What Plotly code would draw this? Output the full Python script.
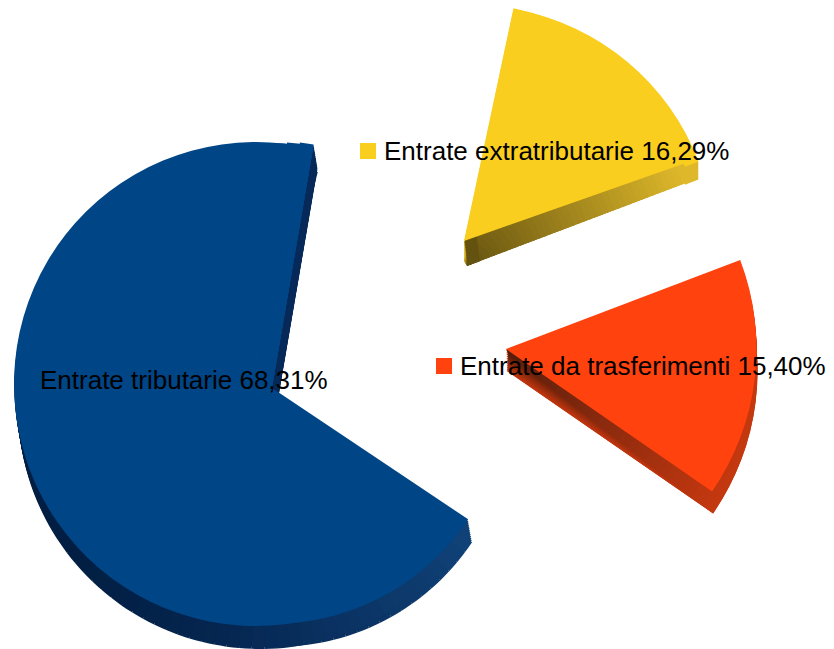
import math
import plotly.graph_objects as go

W, H = 834, 649

slice_labels = ["Entrate tributarie", "Entrate da trasferimenti", "Entrate extratributarie"]
slice_values = [68.31, 15.40, 16.29]
slice_colors = ["#004586", "#ff420e", "#f9ce1e"]
value_text = ["68,31%", "15,40%", "16,29%"]

# layout of each exploded slice (pixels)
apex_x = [272, 506, 464]
apex_y = [388, 349, 241]
apex_radius = [236, 250.5, 238]
start_angle = [123.8, 69.2, 12.0]
# perspective makes the rim off-round: a second arc, centred elsewhere, completes it
arc_x = [256, None, 472]
arc_y = [384, None, 248]
arc_radius = [242, None, 242.5]
arc_start = [140.0, None, 10.5]
arc_sweep = [233.8, None, 58.6]
arc_hole = [0.0, None, 0.94]
arc_wall_drop = [(4, 23), None, (0, 18)]
# the blue slice's upper corner reaches a little further out
corner_start = [360.0, 363.5, 366.5]
corner_radius = [245, 246, 247]
corner_end = 369.7
# extrusion: offset at apex, offset at rim, wall colour at apex and at rim
depth_apex = [(4, 23), (2, 5), (3, 25)]
depth_rim = [(4, 23), (1, 22), (0, 20)]
wall_apex = [(3, 38, 80), (88, 30, 12), (100, 82, 16)]
wall_rim = [(6, 40, 84), (196, 56, 16), (222, 184, 42)]
# shading of the blue wall, by angle
blue_wall_angles = [124, 160, 190, 230, 270, 371]
blue_wall_colors = [(16, 66, 120), (10, 50, 98), (5, 38, 80), (2, 30, 66), (2, 30, 66), (6, 42, 90)]

label_x = [39, 458.5, 382.5]
label_y = [380, 366, 151]
key_x = [None, 436, 360]

STEPS = 40
FRACS = [k / 12 for k in range(1, 13)]
APEX_FRACS = [k / 10 for k in range(1, 11)]


def interp(x, xs, ys):
    if x <= xs[0]:
        return ys[0]
    for k in range(1, len(xs)):
        if x <= xs[k]:
            t = (x - xs[k - 1]) / (xs[k] - xs[k - 1])
            return ys[k - 1] + (ys[k] - ys[k - 1]) * t
    return ys[-1]


def rgb(c):
    return f"rgb({round(c[0])},{round(c[1])},{round(c[2])})"


def pie(values, colors, cx, cy, r, rot, hole=0.0):
    # a pie's circle must stay on the page: slide the apex along the wedge's
    # middle ray if it would overflow; the rim point stays where it is
    m = math.radians(rot + sum(values) * 1.8)
    while cy + r > H or cy - r < 0:
        cx += math.sin(m) * 0.5
        cy -= math.cos(m) * 0.5
        r -= 0.5
    rest = 100 - sum(values)
    return go.Pie(
        values=list(values) + [rest],
        labels=[str(k) for k in range(len(values) + 1)],
        sort=False,
        direction="clockwise",
        rotation=rot,
        hole=hole,
        textinfo="none",
        hoverinfo="skip",
        showlegend=False,
        marker=dict(colors=list(colors) + ["rgba(0,0,0,0)"], line=dict(width=0)),
        domain=dict(x=[(cx - r) / W, (cx + r) / W], y=[1 - (cy + r) / H, 1 - (cy - r) / H]),
    )


def blue_at(angle):
    return rgb([interp(angle, blue_wall_angles, [q[j] for q in blue_wall_colors]) for j in range(3)])


def shaded_blue(start, sweep, cx, cy, r, hole=0.0):
    n = int(sweep // 3) + 1
    w = sweep / n
    cols = [blue_at(start + (k + 0.5) * w) for k in range(n)]
    return pie([w / 3.6] * n, cols, cx, cy, r, start, hole)


fig = go.Figure()
for i, v in enumerate(slice_values):
    ax, ay, R, rot = apex_x[i], apex_y[i], apex_radius[i], start_angle[i]
    rx, ry = depth_rim[i]
    qx, qy = depth_apex[i]
    if i == 0:
        for f in FRACS:
            fig.add_trace(shaded_blue(rot, v * 3.6, ax + rx * f, ay + ry * f, R))
            fig.add_trace(shaded_blue(arc_start[i], arc_sweep[i], arc_x[i] + rx * f, arc_y[i] + ry * f, arc_radius[i]))
        for f in FRACS:
            for cs, cr in zip(corner_start, corner_radius):
                fig.add_trace(pie([(corner_end - cs) / 3.6], [blue_at(cs)], ax + rx * f, ay + ry * f, cr, cs))
        continue
    for f in FRACS:
        fig.add_trace(pie([v], [rgb(wall_rim[i])], ax + rx * f, ay + ry * f, R, rot))
    for s in range(STEPS):
        t = 1 - s / (STEPS - 1)
        r = R * max(t, 0.02)
        c = [a + (b - a) * t for a, b in zip(wall_apex[i], wall_rim[i])]
        fig.add_trace(pie([v], [rgb(c)], ax + qx + (rx - qx) * t, ay + qy + (ry - qy) * t, r, rot))
    if arc_x[i] is not None:
        ux, uy = arc_wall_drop[i]
        for f in FRACS:
            fig.add_trace(pie([arc_sweep[i] / 3.6], [rgb(wall_rim[i])], arc_x[i] + ux * f, arc_y[i] + uy * f,
                              arc_radius[i], arc_start[i], arc_hole[i]))
    for f in APEX_FRACS:
        fig.add_trace(pie([v], [rgb(wall_apex[i])], ax + qx * f, ay + qy * f, 14, rot))

for i, v in enumerate(slice_values):
    fig.add_trace(pie([v], [slice_colors[i]], apex_x[i], apex_y[i], apex_radius[i], start_angle[i]))
    if arc_x[i] is not None:
        fig.add_trace(pie([arc_sweep[i] / 3.6], [slice_colors[i]], arc_x[i], arc_y[i], arc_radius[i],
                          arc_start[i], arc_hole[i]))
    if i == 0:
        for cs, cr in zip(corner_start, corner_radius):
            fig.add_trace(pie([(corner_end - cs) / 3.6], [slice_colors[i]], apex_x[i], apex_y[i], cr, cs))

annotations = []
shapes = []
for i, lab in enumerate(slice_labels):
    annotations.append(dict(
        text=f"{lab} {value_text[i]}", x=label_x[i] / W, y=1 - label_y[i] / H,
        xref="paper", yref="paper", xanchor="left", yanchor="middle",
        showarrow=False, font=dict(family="Liberation Sans", size=26, color="#000000"),
        borderpad=0,
    ))
    if key_x[i] is not None:
        shapes.append(dict(
            type="rect", xref="paper", yref="paper",
            x0=key_x[i] / W, x1=(key_x[i] + 16) / W,
            y0=1 - (label_y[i] + 8) / H, y1=1 - (label_y[i] - 8) / H,
            fillcolor=slice_colors[i], line=dict(width=0),
        ))

fig.update_layout(
    width=W, height=H, margin=dict(l=0, r=0, t=0, b=0),
    paper_bgcolor="white", annotations=annotations, shapes=shapes,
)
fig.write_html("out.html", config=dict(displayModeBar=False),
               post_script="document.body.style.margin='0';")
